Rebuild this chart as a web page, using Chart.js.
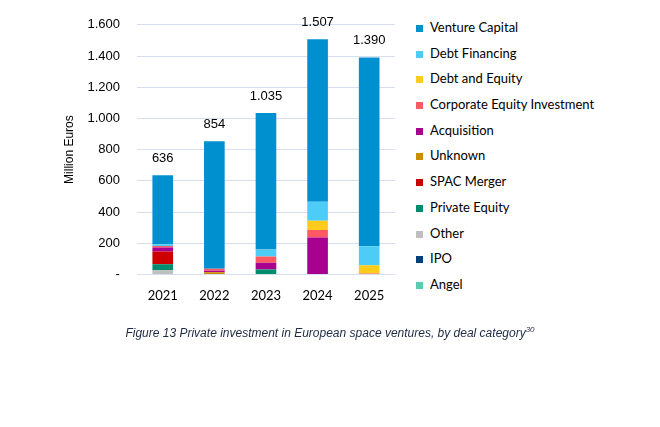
<!DOCTYPE html>
<html>
<head>
<meta charset="utf-8">
<script src="https://cdn.jsdelivr.net/npm/chart.js@4.4.1/dist/chart.umd.min.js"></script>
<style>
  html, body { margin: 0; padding: 0; background: #fff; }
  #wrap { position: absolute; left: 0; top: 0; width: 400px; height: 333px; }
  #legend {
    position: absolute; left: 416px; top: 15px; margin: 0; padding: 0; list-style: none;
    font-family: Lato, sans-serif; font-size: 13px; color: #000;
  }
  #legend li { height: 25.7px; line-height: 25.7px; white-space: nowrap; }
  #legend span.box {
    display: inline-block; width: 7px; height: 7px; margin-right: 7px; vertical-align: 0px;
  }
  #caption {
    position: absolute; left: 0; top: 325px; width: 660px; text-align: center;
    font-family: "Liberation Sans", Arial, sans-serif; font-style: italic; font-size: 12px;
    color: #1f2a44;
  }
  #caption sup { font-size: 8px; }
</style>
</head>
<body>
<div id="wrap"><canvas id="myChart"></canvas></div>
<ul id="legend"></ul>
<div id="caption">Figure 13 Private investment in European space ventures, by deal category<sup>30</sup></div>
<script>
// Años
const years = ['2021', '2022', '2023', '2024', '2025'];

// Valores por categoría (millones de euros)
const ventureCapital = [442, 818, 875, 1041, 1210];
const debtFinancing = [12, 0, 46, 122, 122];
const debtAndEquity = [0, 0, 0, 59, 52];
const corporateEquity = [10, 12, 40, 48, 6];
const acquisition = [25, 10, 42, 237, 0];
const unknown = [0, 14, 0, 0, 0];
const spacMerger = [82, 0, 0, 0, 0];
const privateEquity = [38, 0, 32, 0, 0];
const other = [27, 0, 0, 0, 0];
const ipo = [0, 0, 0, 0, 0];
const angel = [0, 0, 0, 0, 0];

// Marcas del eje Y
const yTicks = [0, 200, 400, 600, 800, 1000, 1200, 1400, 1600];

// Orden de apilado: de abajo hacia arriba
const series = [
  { label: 'Angel', data: angel, color: '#55cdb0' },
  { label: 'IPO', data: ipo, color: '#003f7d' },
  { label: 'Other', data: other, color: '#bfbfbf' },
  { label: 'Private Equity', data: privateEquity, color: '#008c6e' },
  { label: 'SPAC Merger', data: spacMerger, color: '#cc0000' },
  { label: 'Unknown', data: unknown, color: '#cc8d00' },
  { label: 'Acquisition', data: acquisition, color: '#a8008f' },
  { label: 'Corporate Equity Investment', data: corporateEquity, color: '#ff5a64' },
  { label: 'Debt and Equity', data: debtAndEquity, color: '#ffcc1c' },
  { label: 'Debt Financing', data: debtFinancing, color: '#4dccf8' },
  { label: 'Venture Capital', data: ventureCapital, color: '#0090cf' }
];

const fmt = v => v.toLocaleString('de-DE');

// Leyenda en HTML (de arriba hacia abajo = orden inverso del apilado)
const legendUl = document.getElementById('legend');
series.slice().reverse().forEach(s => {
  const li = document.createElement('li');
  const box = document.createElement('span');
  box.className = 'box';
  box.style.background = s.color;
  li.appendChild(box);
  li.appendChild(document.createTextNode(s.label));
  legendUl.appendChild(li);
});

// Totales encima de cada barra
const totalsPlugin = {
  id: 'totals',
  afterDatasetsDraw(chart) {
    const { ctx, scales } = chart;
    ctx.save();
    ctx.font = '13px "Liberation Sans", Arial, sans-serif';
    ctx.fillStyle = '#000';
    ctx.textAlign = 'center';
    ctx.textBaseline = 'middle';
    years.forEach((y, i) => {
      const total = series.reduce((s, d) => s + d.data[i], 0);
      const x = scales.x.getPixelForValue(i);
      const py = scales.y.getPixelForValue(total);
      ctx.fillText(fmt(total), x, py - 17);
    });
    ctx.restore();
  }
};

const ctx = document.getElementById('myChart');
new Chart(ctx, {
  type: 'bar',
  data: {
    labels: years,
    datasets: series.map(s => ({
      label: s.label,
      data: s.data,
      backgroundColor: s.color,
      borderWidth: 0,
      barPercentage: 0.8,
      categoryPercentage: 0.5
    }))
  },
  options: {
    responsive: true,
    maintainAspectRatio: false,
    animation: false,
    layout: { padding: { left: 62, right: 5, top: 16, bottom: 23 } },
    plugins: {
      legend: { display: false },
      tooltip: { enabled: false }
    },
    scales: {
      x: {
        stacked: true,
        grid: { display: false },
        border: { display: false },
        ticks: {
          color: '#000',
          padding: 6,
          font: { family: 'Lato, sans-serif', size: 13 }
        }
      },
      y: {
        stacked: true,
        min: 0,
        max: 1600,
        afterBuildTicks: axis => { axis.ticks = yTicks.map(v => ({ value: v })); },
        grid: { color: '#d6dff2', lineWidth: 1, drawTicks: false },
        border: { display: false },
        ticks: {
          color: '#000',
          padding: 17,
          font: { family: '"Liberation Sans", Arial, sans-serif', size: 13 },
          callback: v => v === 0 ? '-' : fmt(v)
        },
        title: {
          display: true,
          text: 'Million Euros',
          color: '#000',
          padding: { top: 0, bottom: -6 },
          font: { family: '"Liberation Sans", Arial, sans-serif', size: 12 }
        }
      }
    }
  },
  plugins: [totalsPlugin]
});
</script>
</body>
</html>
